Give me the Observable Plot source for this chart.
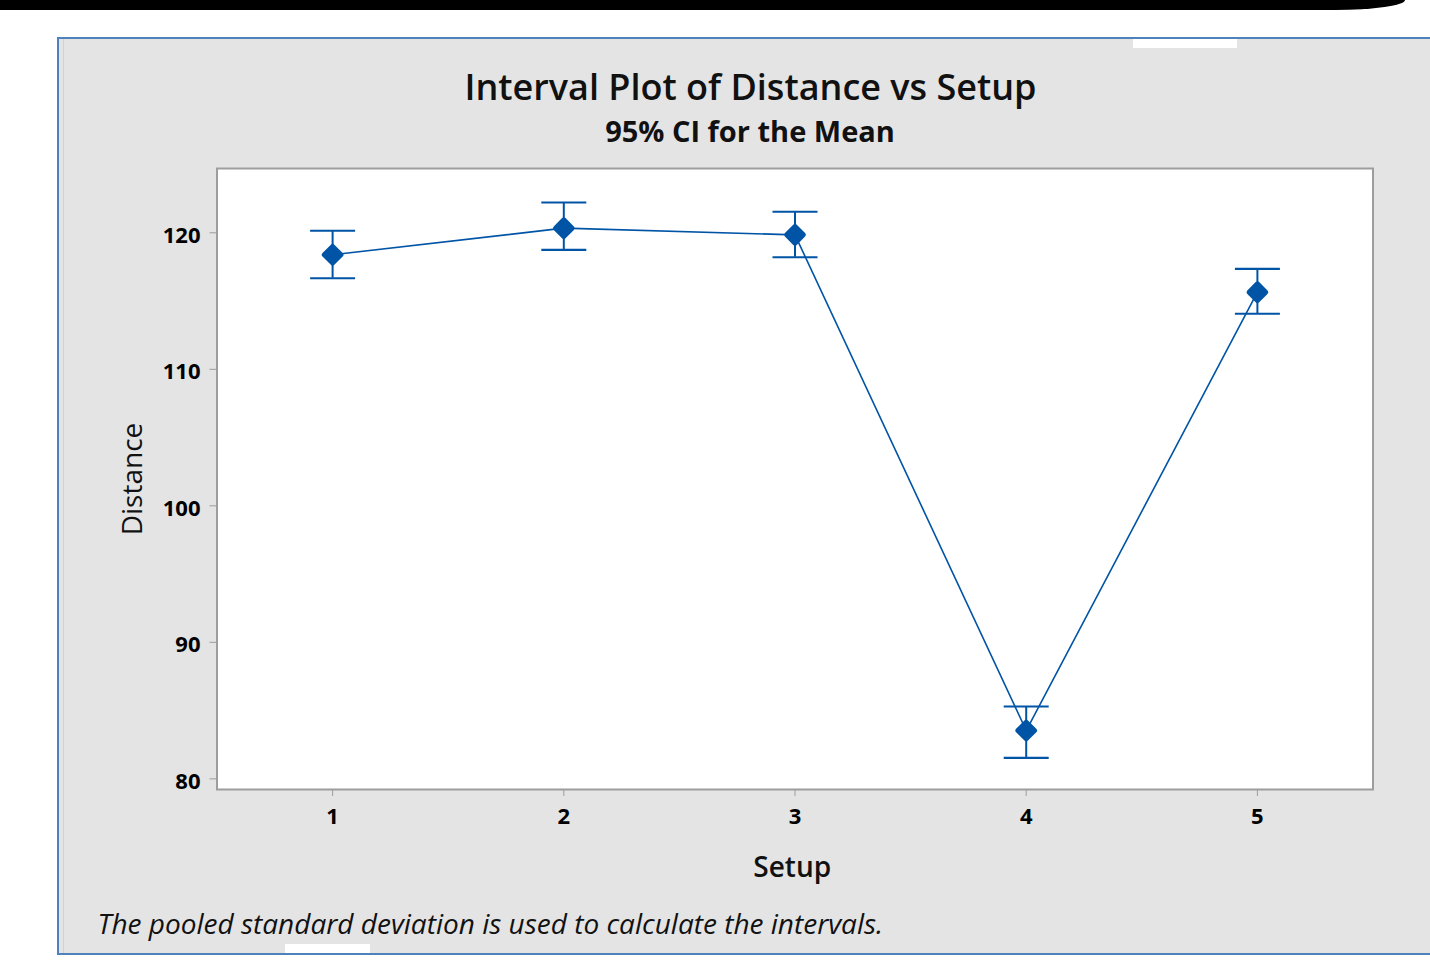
<!DOCTYPE html>
<html>
<head>
<meta charset="utf-8">
<script src="https://cdn.jsdelivr.net/npm/d3@7"></script>
<script src="https://cdn.jsdelivr.net/npm/@observablehq/plot@0.6"></script>
<style>
  html, body { margin: 0; padding: 0; background: #ffffff; width: 1430px; height: 969px; overflow: hidden; }
  #band { position: absolute; left: 0; top: 0; width: 1405px; height: 10px; background: #000; border-bottom-right-radius: 70px 10px; }
  #panel { position: absolute; left: 57px; top: 37px; width: 1400px; height: 914px; background: #e4e4e4; border: 2px solid #4f81bd; border-right: none; box-sizing: content-box; }
  #panel-inner { position: absolute; left: 63px; top: 39px; width: 1px; height: 914px; background: #d2d2d2; }
  .notch { position: absolute; background: #ffffff; }
  #chart { position: absolute; left: 0; top: 0; }
</style>
</head>
<body>
<div id="band"></div>
<div id="panel"></div>
<div id="panel-inner"></div>
<div class="notch" style="left:1133px;top:39px;width:104px;height:9px;"></div>
<div class="notch" style="left:285px;top:944px;width:85px;height:9px;"></div>
<div id="chart"></div>
<script>
// ---- data ----
const setups = [1, 2, 3, 4, 5];
const means  = [118.39, 120.34, 119.85, 83.54, 115.65];
const lowers = [116.67, 118.75, 118.21, 81.54, 114.07];
const uppers = [120.15, 122.22, 121.54, 85.30, 117.36];
const xTicks = [1, 2, 3, 4, 5];
const yTicks = [80, 90, 100, 110, 120];
const titleText = "Interval Plot of Distance vs Setup";
const subtitleText = "95% CI for the Mean";
const xLabelText = "Setup";
const yLabelText = "Distance";
const footnoteText = "The pooled standard deviation is used to calculate the intervals.";

const rows = setups.map((s, i) => ({setup: s, mean: means[i], lo: lowers[i], hi: uppers[i]}));

// ---- style ----
const blue = "#0054a6";
const axisGray = "#9d9d9d";
const font = "'Open Sans', 'Noto Sans', sans-serif";
const capSymbol = {
  draw(context, size) {
    const w = Math.sqrt(size / Math.PI);
    context.moveTo(-w, 0);
    context.lineTo(w, 0);
  }
};

const chart = Plot.plot({
  width: 1430,
  height: 969,
  marginLeft: 216.5,
  marginRight: 57.5,
  marginTop: 168,
  marginBottom: 180,
  style: {background: "transparent", fontFamily: font, fontSize: "22px", fontWeight: 700, color: "#111", overflow: "visible"},
  x: {domain: [0.5, 5.5]},
  y: {domain: [79.22, 124.71]},
  marks: [
    Plot.frame({fill: "white", stroke: axisGray, strokeWidth: 2}),
    Plot.axisX(xTicks, {tickSize: 7, tickPadding: 12, stroke: axisGray, fill: "#000", fontSize: 22, fontWeight: 700, tickFormat: d => String(d), label: null}),
    // y tick marks
    Plot.axisY(yTicks, {tickSize: 7, stroke: axisGray, tickFormat: () => "", label: null}),
    // y tick labels (sit slightly below their ticks, as in the reference)
    Plot.axisY(yTicks, {tickSize: 0, tickPadding: 16.5, dy: 3, fill: "#000", fontSize: 22, fontWeight: 700, tickFormat: d => String(d), label: null}),
    Plot.line(rows, {x: "setup", y: "mean", stroke: blue, strokeWidth: 1.6}),
    Plot.ruleX(rows, {x: "setup", y1: "lo", y2: "hi", stroke: blue, strokeWidth: 2}),
    Plot.dot(rows, {x: "setup", y: "hi", symbol: capSymbol, r: 22.5, fill: "none", stroke: blue, strokeWidth: 2.2}),
    Plot.dot(rows, {x: "setup", y: "lo", symbol: capSymbol, r: 22.5, fill: "none", stroke: blue, strokeWidth: 2.2}),
    Plot.dot(rows, {x: "setup", y: "mean", symbol: "diamond2", r: 7.5, fill: blue, stroke: blue, strokeWidth: 5, strokeLinejoin: "round"}),
    Plot.text([titleText], {text: d => d, frameAnchor: "top-left", dx: 533.5, dy: -68.7, textAnchor: "middle", lineAnchor: "bottom", fontSize: 36, fontWeight: 600, fill: "#111", ariaLabel: "title"}),
    Plot.text([subtitleText], {text: d => d, frameAnchor: "top-left", dx: 533, dy: -27, textAnchor: "middle", lineAnchor: "bottom", fontSize: 29, fontWeight: 700, fill: "#111", ariaLabel: "subtitle"}),
    Plot.text([xLabelText], {text: d => d, frameAnchor: "bottom-left", dx: 575.2, dy: 87, textAnchor: "middle", lineAnchor: "bottom", fontSize: 28, fontWeight: 600, fill: "#111", ariaLabel: "xlabel"}),
    Plot.text([yLabelText], {text: d => d, frameAnchor: "left", dx: -75.5, dy: 0, rotate: -90, textAnchor: "middle", lineAnchor: "bottom", fontSize: 28, fontWeight: 400, fill: "#111", ariaLabel: "ylabel"}),
    Plot.text([footnoteText], {text: d => d, frameAnchor: "bottom-left", dx: -119.5, dy: 144.3, textAnchor: "start", lineAnchor: "bottom", fontSize: 28, fontWeight: 400, fontStyle: "italic", fill: "#111", ariaLabel: "footnote"})
  ]
});

// fit text widths to the reference
const widths = {title: 570, subtitle: 295, xlabel: 80, ylabel: 117, footnote: 789};
for (const [k, w] of Object.entries(widths)) {
  chart.querySelectorAll(`g[aria-label="${k}"] text`).forEach(t => {
    t.setAttribute("textLength", w);
    t.setAttribute("lengthAdjust", "spacingAndGlyphs");
  });
}
document.getElementById("chart").appendChild(chart);
</script>
</body>
</html>
